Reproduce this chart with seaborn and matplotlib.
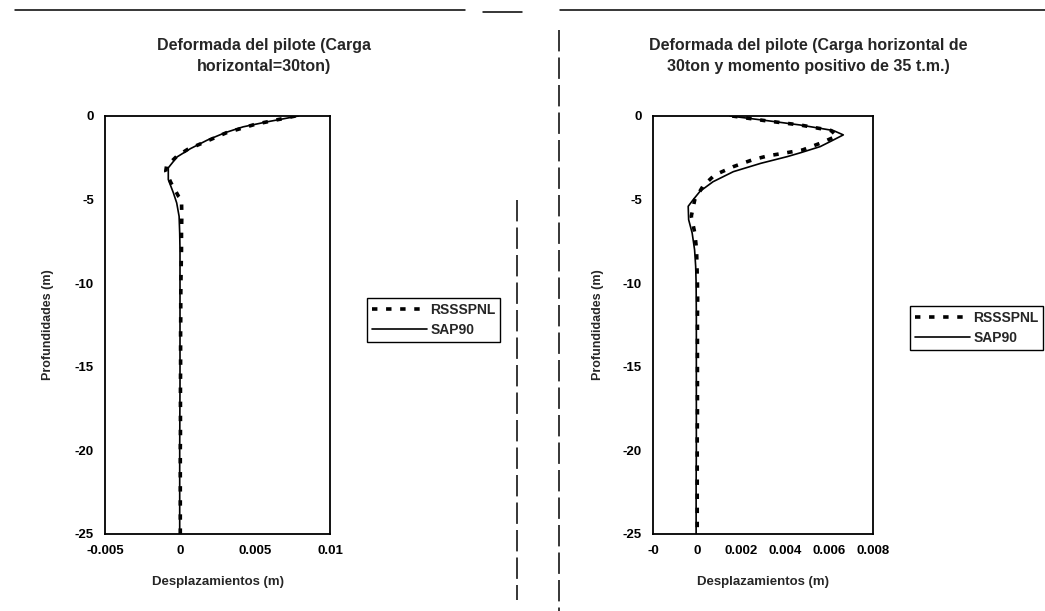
import numpy as np
import pandas as pd
import seaborn as sns
import matplotlib.pyplot as plt
from matplotlib.lines import Line2D

sns.set_theme(style="white")
plt.rcParams['font.family'] = ['Liberation Sans', 'DejaVu Sans']
plt.rcParams['font.weight'] = 'bold'

# ---------------- data ----------------
series_names = ["RSSSPNL", "SAP90"]

# Chart 1: horizontal load 30 ton
depth_l_rss = [0, -0.5, -1, -1.5, -2, -2.4, -3.0, -3.3, -4.0, -4.8, -5, -6, -7, -8, -9, -10, -11, -12,
               -13, -14, -15, -16, -17, -18, -19, -20, -21, -22, -23, -24, -25]
disp_l_rss = [0.0077, 0.0050, 0.0031, 0.0018, 0.0005, -0.0002, -0.0009, -0.00095, -0.0006, -0.0001,
              0.0001, 0.00012, 0.0001, 0.0001, 0.00008, 0.00006, 0.00005, 0.00005, 0.00004, 0.00004,
              0.00004, 0.00003, 0.00003, 0.00003, 0.00003, 0.00002, 0.00002, 0.00002, 0.00002,
              0.00002, 0.00002]
depth_l_sap = [0, -0.35, -0.65, -1.0, -1.45, -1.95, -2.45, -3.1, -3.8, -4.6, -5.2, -6, -7, -8, -9,
               -10, -12, -14, -16, -18, -20, -22, -25]
disp_l_sap = [0.0079, 0.0058, 0.0042, 0.0030, 0.0018, 0.0007, -0.0002, -0.00078, -0.00078, -0.00044,
              -0.00022, -0.00006, -0.00002, 0.0, 0.0, 0.0, 0.0, 0.0, 0.0, -0.00001, -0.00002,
              -0.00002, -0.00002]

# Chart 2: horizontal load 30 ton + positive moment 35 t.m
depth_r_rss = [0, -0.28, -0.54, -0.87, -1.2, -1.63, -2.03, -2.19, -2.39, -2.63, -3.03, -3.53, -4.18,
               -5.0, -6, -7, -8, -9, -10, -11, -12, -13, -14, -15, -16, -17, -18, -19, -20, -21,
               -22, -23, -24, -25]
disp_r_rss = [0.0016, 0.0031, 0.0047, 0.0061, 0.00635, 0.0056, 0.0048, 0.0041, 0.0032, 0.0025,
              0.00165, 0.0008, 0.00028, -0.0001, -0.00026, -0.0001, -0.00002, 0.0, 0.00002,
              0.00003, 0.00002, 0.00002, 0.00002, 0.00002, 0.00002, 0.00002, 0.00002, 0.00001,
              0.00001, 0.00001, 0.00001, 0.00001, 0.00001, 0.00001]
depth_r_sap = [0, -0.28, -0.54, -0.87, -1.13, -1.5, -1.83, -2.2, -2.43, -2.83, -3.33, -3.93, -4.5,
               -5.0, -5.4, -6.2, -7, -8, -9, -10, -12, -15, -18, -20, -22, -25]
disp_r_sap = [0.0015, 0.0032, 0.0047, 0.0062, 0.00665, 0.0061, 0.0056, 0.0047, 0.0041, 0.0029,
              0.00165, 0.00073, 0.00014, -0.00017, -0.0004, -0.00038, -0.00022, -0.00011, -0.00006,
              -0.00004, -0.00003, -0.00003, -0.00003, -0.00003, -0.00004, -0.00004]

titles = ["Deformada del pilote (Carga\nhorizontal=30ton)",
          "Deformada del pilote (Carga horizontal de\n30ton y momento positivo de 35 t.m.)"]
xlabel = "Desplazamientos (m)"
ylabel = "Profundidades (m)"
yticks = [0, -5, -10, -15, -20, -25]
xticks_l = [-0.005, 0, 0.005, 0.01]
xticklabels_l = ["-0.005", "0", "0.005", "0.01"]
xticks_r = [-0.002, 0, 0.002, 0.004, 0.006, 0.008]
xticklabels_r = ["-0", "0", "0.002", "0.004", "0.006", "0.008"]


def frame(d_rss, x_rss, d_sap, x_sap):
    a = pd.DataFrame({"depth": d_rss, "disp": x_rss, "serie": series_names[0]})
    b = pd.DataFrame({"depth": d_sap, "disp": x_sap, "serie": series_names[1]})
    return pd.concat([a, b], ignore_index=True)


df_l = frame(depth_l_rss, disp_l_rss, depth_l_sap, disp_l_sap)
df_r = frame(depth_r_rss, disp_r_rss, depth_r_sap, disp_r_sap)

W, H = 1045, 611
fig = plt.figure(figsize=(W / 100, H / 100), dpi=100)
fig.patch.set_facecolor("white")

ax_l = fig.add_axes([105 / W, 1 - 534 / H, 225 / W, 418 / H])
ax_r = fig.add_axes([653 / W, 1 - 534 / H, 220 / W, 418 / H])

DASH = (1.5, 2.4)


def draw(ax, df, xlim, xticks, xticklabels):
    sns.lineplot(data=df, x="disp", y="depth", hue="serie", style="serie",
                 palette={series_names[0]: "black", series_names[1]: "black"},
                 dashes={series_names[0]: DASH, series_names[1]: ""},
                 size="serie", sizes={series_names[0]: 2.6, series_names[1]: 1.2},
                 sort=False, estimator=None, ax=ax, legend=False)
    ax.set_xlim(*xlim)
    ax.set_ylim(-25, 0)
    ax.set_xticks(xticks)
    ax.set_xticklabels(xticklabels)
    ax.set_yticks(yticks)
    ax.set_yticklabels([str(t) for t in yticks])
    for s in ax.spines.values():
        s.set_visible(True)
        s.set_color("black")
        s.set_linewidth(1.3)
    ax.tick_params(direction="out", length=4, width=1, colors="black", labelsize=9.5, pad=4)
    for lab in ax.get_xticklabels() + ax.get_yticklabels():
        lab.set_fontweight("bold")
    ax.set_xlabel(xlabel, fontsize=9.5, fontweight="bold")
    ax.set_ylabel(ylabel, fontsize=9, fontweight="bold")
    ax.xaxis.set_label_coords(0.5, -0.10)
    ax.yaxis.set_label_coords(-0.225, 0.5)
    ax.set_facecolor("white")


draw(ax_l, df_l, (-0.005, 0.01), xticks_l, xticklabels_l)
draw(ax_r, df_r, (-0.002, 0.008), xticks_r, xticklabels_r)

# titles
fig.text(264 / W, 1 - 56 / H, titles[0], ha="center", va="center", fontsize=11.5,
         fontweight="bold", linespacing=1.45)
fig.text(808 / W, 1 - 56 / H, titles[1], ha="center", va="center", fontsize=11.5,
         fontweight="bold", linespacing=1.45)

# legends
handles = [Line2D([], [], color="black", lw=2.6, dashes=DASH),
           Line2D([], [], color="black", lw=1.2)]
for x0, yc in [(367, 320), (910, 328)]:
    leg = fig.legend(handles, series_names, loc="center left",
                     bbox_to_anchor=(x0 / W, 1 - yc / H), bbox_transform=fig.transFigure,
                     frameon=True, fancybox=False, framealpha=1, edgecolor="black",
                     prop={"size": 10, "weight": "bold"}, handlelength=4.0,
                     handletextpad=0.2, borderpad=0.35, labelspacing=0.45, borderaxespad=0)
    leg.get_frame().set_linewidth(1.0)

# chart-area border remnants from the scan
borders = [
    ([15 / W, 465 / W], [1 - 10 / H, 1 - 10 / H], "-"),
    ([483 / W, 522 / W], [1 - 12 / H, 1 - 12 / H], "-"),
    ([560 / W, 1045 / W], [1 - 10 / H, 1 - 10 / H], "-"),
    ([517 / W, 517 / W], [1 - 200 / H, 1 - 600 / H], "--"),
    ([559 / W, 559 / W], [1 - 30 / H, 1 - 611 / H], "--"),
]
for xs, ys, ls in borders:
    ln = Line2D(xs, ys, transform=fig.transFigure, color="black", lw=1.1, linestyle=ls)
    if ls == "--":
        ln.set_dashes((14, 4))
    fig.add_artist(ln)

fig.savefig("out.png", dpi=100, facecolor="white")
